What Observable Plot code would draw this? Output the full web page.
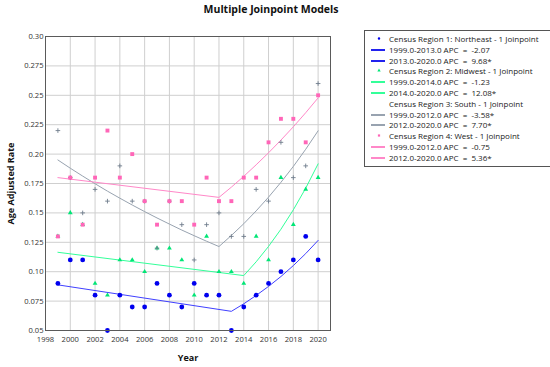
<!DOCTYPE html>
<html>
<head>
<meta charset="utf-8">
<script src="https://cdn.jsdelivr.net/npm/d3@7"></script>
<script src="https://cdn.jsdelivr.net/npm/@observablehq/plot@0.6"></script>
<style>
  html, body { margin: 0; padding: 0; background: #fff; }
  #wrap { position: relative; width: 550px; height: 367px; overflow: hidden; font-family: "Open Sans", "DejaVu Sans", sans-serif; }
  #title { position: absolute; left: 0; width: 542px; top: 2px; text-align: center; font-weight: bold; font-size: 10.5px; color: #111; }
  #legend { position: absolute; left: 364px; top: 30px; width: 200px; height: 137px; border: 1px solid #555; box-sizing: border-box; background: #fff; }
  .row { position: absolute; left: 0; height: 11px; font-size: 8px; line-height: 11px; color: #222; white-space: pre; }
  .row span { position: absolute; left: 24px; top: 0; white-space: pre; }
  .row svg { position: absolute; left: 6px; top: 0; }
</style>
</head>
<body>
<div id="wrap">
  <div id="chart"></div>
  <div id="title">Multiple Joinpoint Models</div>
  <div id="legend"></div>
</div>
<script>
const years = [1999,2000,2001,2002,2003,2004,2005,2006,2007,2008,2009,2010,2011,2012,2013,2014,2015,2016,2017,2018,2019,2020];

const neRates = [0.09,0.11,0.11,0.08,0.05,0.08,0.07,0.07,0.09,0.08,0.07,0.09,0.08,0.08,0.05,0.07,0.08,0.09,0.10,0.11,0.13,0.11];
const mwRates = [0.13,0.15,0.14,0.09,0.08,0.11,0.11,0.10,0.12,0.12,0.11,0.08,0.13,0.10,0.10,0.09,0.13,0.11,0.18,0.14,0.17,0.18];
const sRates  = [0.22,0.18,0.15,0.17,0.16,0.19,0.16,0.16,0.12,0.16,0.14,0.11,0.14,0.15,0.13,0.13,0.17,0.16,0.21,0.18,0.19,0.26];
const wRates  = [0.13,0.18,0.14,0.18,0.22,0.18,0.20,0.16,0.14,0.16,0.16,0.14,0.18,0.16,0.16,0.18,0.18,0.21,0.23,0.23,0.21,0.25];

const neFitYears = [1999,2013,2014,2015,2016,2017,2018,2019,2020];
const neFit      = [0.0888,0.0663,0.0727,0.0798,0.0875,0.0959,0.1052,0.1154,0.1266];
const mwFitYears = [1999,2014,2015,2016,2017,2018,2019,2020];
const mwFit      = [0.1165,0.0967,0.1084,0.1215,0.1361,0.1526,0.1710,0.1917];
const sFitYears  = [1999,2000,2001,2002,2003,2004,2005,2006,2007,2008,2009,2010,2011,2012,2013,2014,2015,2016,2017,2018,2019,2020];
const sFit       = [0.195,0.1880,0.1813,0.1748,0.1685,0.1625,0.1567,0.1511,0.1457,0.1405,0.1354,0.1306,0.1259,0.1214,0.1308,0.1408,0.1517,0.1634,0.1760,0.1895,0.2041,0.2198];
const wFitYears  = [1999,2012,2013,2014,2015,2016,2017,2018,2019,2020];
const wFit       = [0.180,0.1632,0.1719,0.1811,0.1909,0.2011,0.2119,0.2232,0.2352,0.2478];

const xTicks = [1998,2000,2002,2004,2006,2008,2010,2012,2014,2016,2018,2020];
const yTicks = [0.05,0.075,0.10,0.125,0.15,0.175,0.20,0.225,0.25,0.275,0.30];
const yTickLabels = ["0.05","0.075","0.10","0.125","0.15","0.175","0.20","0.225","0.25","0.275","0.30"];

const legendItems = [
  {kind:"dot", sym:"circle", color:"#0000ee", text:"Census Region 1: Northeast - 1 Joinpoint"},
  {kind:"line", color:"#2222ee", text:"1999.0-2013.0 APC  =  -2.07"},
  {kind:"line", color:"#2222ee", text:"2013.0-2020.0 APC  =  9.68*"},
  {kind:"dot", sym:"triangle", color:"#00e676", text:"Census Region 2: Midwest - 1 Joinpoint"},
  {kind:"line", color:"#33ff99", text:"1999.0-2014.0 APC  =  -1.23"},
  {kind:"line", color:"#33ff99", text:"2014.0-2020.0 APC  =  12.08*"},
  {kind:"dot", sym:"plus", color:"#7d8a99", text:"Census Region 3: South - 1 Joinpoint"},
  {kind:"line", color:"#98a3b0", text:"1999.0-2012.0 APC  =  -3.58*"},
  {kind:"line", color:"#98a3b0", text:"2012.0-2020.0 APC  =  7.70*"},
  {kind:"dot", sym:"square", color:"#ff66b8", text:"Census Region 4: West - 1 Joinpoint"},
  {kind:"line", color:"#ff88c8", text:"1999.0-2012.0 APC  =  -0.75"},
  {kind:"line", color:"#ff88c8", text:"2012.0-2020.0 APC  =  5.36*"}
];

const pts = (ys, vs) => ys.map((y, i) => ({year: y, rate: vs[i]}));
const ne = pts(years, neRates), mw = pts(years, mwRates), so = pts(years, sRates), we = pts(years, wRates);
const neL = pts(neFitYears, neFit), mwL = pts(mwFitYears, mwFit), soL = pts(sFitYears, sFit), weL = pts(wFitYears, wFit);

const chart = Plot.plot({
  width: 550,
  height: 367,
  marginLeft: 45,
  marginRight: 220,
  marginTop: 36,
  marginBottom: 37,
  style: {fontFamily: "'Open Sans', 'DejaVu Sans', sans-serif", fontSize: "7.6px", color: "#333", background: "transparent"},
  x: {domain: [1998, 2021], label: null},
  y: {domain: [0.05, 0.30], label: null},
  marks: [
    Plot.gridX(xTicks, {stroke: "#cfcfcf", strokeOpacity: 1}),
    Plot.gridY(yTicks, {stroke: "#cfcfcf", strokeOpacity: 1}),
    Plot.line(neL, {x: "year", y: "rate", stroke: "#4040ff", strokeWidth: 1}),
    Plot.line(mwL, {x: "year", y: "rate", stroke: "#33ff99", strokeWidth: 1}),
    Plot.line(soL, {x: "year", y: "rate", stroke: "#98a3b0", strokeWidth: 1}),
    Plot.line(weL, {x: "year", y: "rate", stroke: "#ff88c8", strokeWidth: 1}),
    Plot.dot(ne, {x: "year", y: "rate", fill: "#0000ee", r: 2.4, symbol: "circle"}),
    Plot.dot(mw, {x: "year", y: "rate", fill: "#00e676", r: 1.8, symbol: "triangle"}),
    Plot.dot(so, {x: "year", y: "rate", stroke: "#6f7d8c", strokeWidth: 0.9, r: 1.6, symbol: "plus"}),
    Plot.dot(we, {x: "year", y: "rate", fill: "#ff66b8", r: 2.2, symbol: "square"}),
    Plot.frame({stroke: "#5a5a5a", strokeWidth: 1}),
    Plot.axisX({ticks: xTicks, tickFormat: d => String(d), tickSize: 0, tickPadding: 6, label: "Year", labelAnchor: "center", labelArrow: "none", labelOffset: 30}),
    Plot.axisY({ticks: yTicks, tickFormat: d => yTickLabels[yTicks.indexOf(d)], tickSize: 0, tickPadding: 2, label: "Age Adjusted Rate", labelAnchor: "center", labelArrow: "none", labelOffset: 38})
  ]
});
document.getElementById("chart").appendChild(chart);

// bold axis titles
d3.select(chart).selectAll("[aria-label='x-axis label'] text, [aria-label='y-axis label'] text")
  .style("font-weight", "bold").style("font-size", "9px").style("fill", "#111");

// legend
const leg = d3.select("#legend");
const symPath = {
  circle: d3.symbol(d3.symbolCircle, 10)(),
  triangle: d3.symbol(d3.symbolTriangle, 10)(),
  plus: d3.symbol(d3.symbolPlus, 10)(),
  square: d3.symbol(d3.symbolSquare, 10)()
};
legendItems.forEach((it, i) => {
  const row = leg.append("div").attr("class", "row").style("top", (2 + i * 10.8) + "px").style("width", "190px");
  const svg = row.append("svg").attr("width", 16).attr("height", 11);
  if (it.kind === "line") {
    svg.append("line").attr("x1", 0).attr("x2", 14).attr("y1", 6).attr("y2", 6).attr("stroke", it.color).attr("stroke-width", 2);
  } else {
    svg.append("path").attr("d", symPath[it.sym]).attr("transform", "translate(8,5.5) scale(0.7)").attr("fill", it.color);
  }
  row.append("span").text(it.text);
});
</script>
</body>
</html>
